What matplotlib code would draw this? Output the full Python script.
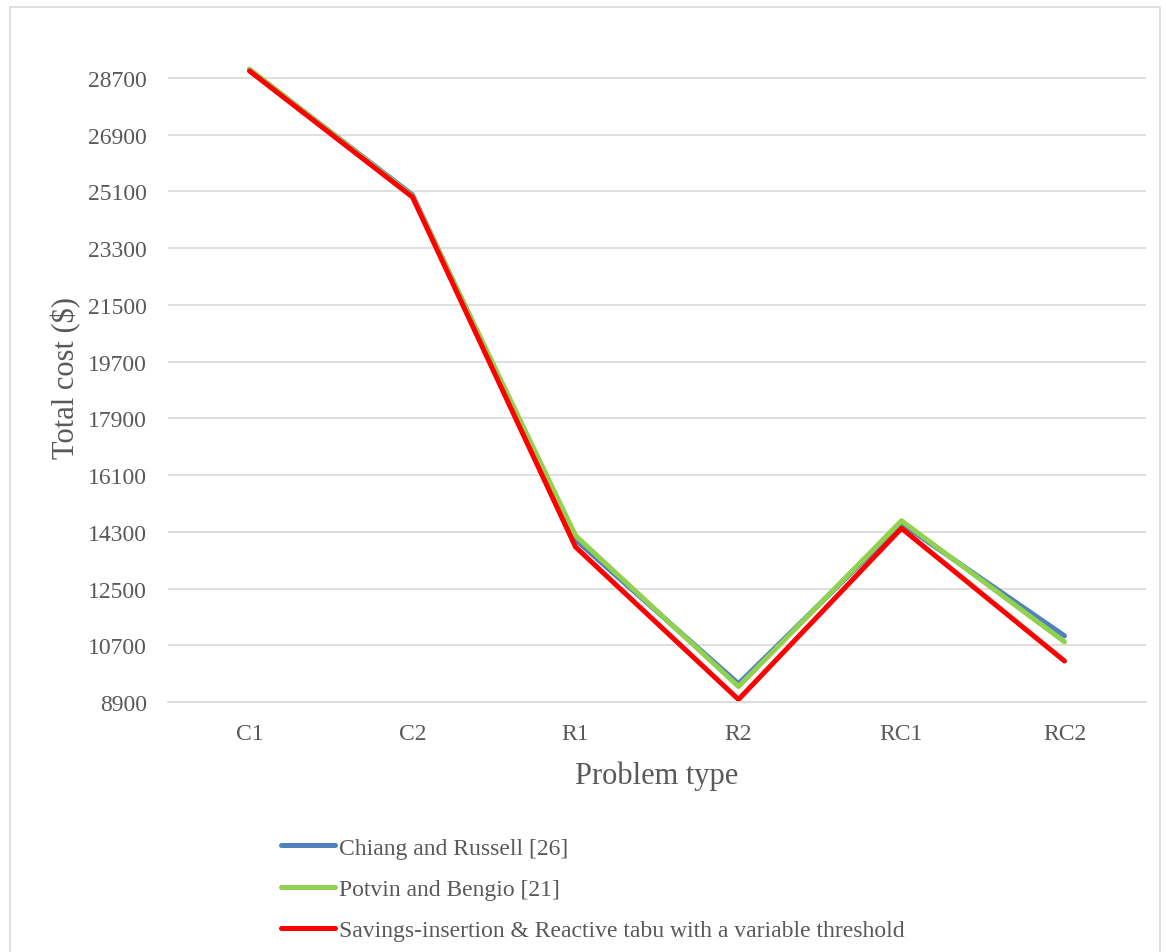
import matplotlib
matplotlib.use('Agg')
import matplotlib.pyplot as plt
from matplotlib.patches import Rectangle

# Values
problems = ['C1', 'C2', 'R1', 'R2', 'RC1', 'RC2']
chiang   = [28960, 24990, 14050, 9480, 14560, 11000]
potvin   = [28980, 24950, 14180, 9390, 14650, 10810]
savings  = [28920, 24920, 13820, 8980, 14410, 10200]
series_names = ['Chiang and Russell [26]',
                'Potvin and Bengio [21]',
                'Savings-insertion & Reactive tabu with a variable threshold']
y_ticks = [8900, 10700, 12500, 14300, 16100, 17900, 19700,
           21500, 23300, 25100, 26900, 28700]

plt.rcParams['font.family'] = ['Liberation Serif', 'DejaVu Serif']
text_col = '#595959'

fig = plt.figure(figsize=(11.66, 9.53), dpi=100)
# outer chart border
fig.patches.append(Rectangle((10 / 1166, -0.01), 1150 / 1166, 1 - 8 / 953 + 0.01,
                             transform=fig.transFigure, fill=False,
                             edgecolor='#d9d9d9', lw=1.2))

ax = fig.add_axes([168 / 1166, 1 - 703 / 953, 978 / 1166, 674.5 / 953])

x = list(range(len(problems)))
ax.plot(x, chiang, color='#4f81bd', lw=3.6, solid_capstyle='round', label=series_names[0])
ax.plot(x, potvin, color='#92d050', lw=3.6, solid_capstyle='round', label=series_names[1])
ax.plot(x, savings, color='#ff0000', lw=3.6, solid_capstyle='round', label=series_names[2])

ax.set_xlim(-0.5, len(problems) - 0.5)
ax.set_ylim(8900, 30300)
ax.set_yticks(y_ticks)
ax.set_xticks(x)
ax.set_xticklabels(problems)
ax.grid(axis='y', color='#d9d9d9', lw=1.2)
ax.set_axisbelow(True)
for s in ['left', 'right', 'top']:
    ax.spines[s].set_visible(False)
ax.spines['bottom'].set_color('#d9d9d9')
ax.spines['bottom'].set_linewidth(1.2)
ax.tick_params(length=0, labelsize=17, labelcolor=text_col)
ax.tick_params(axis='y', pad=15)
ax.tick_params(axis='x', pad=15)

ax.set_ylabel('Total cost ($)', fontsize=22, color=text_col)
ax.yaxis.set_label_coords(-0.089, 0.482)
ax.set_xlabel('Problem type', fontsize=22, color=text_col)
ax.xaxis.set_label_coords(0.5, -0.086)

leg = fig.legend(loc='upper left', bbox_to_anchor=(281 / 1166, 1 - 838 / 953),
                 frameon=False, fontsize=17, handlelength=2.3, handletextpad=0.15,
                 labelspacing=0.84, borderpad=0, borderaxespad=0)
for t in leg.get_texts():
    t.set_color(text_col)

fig.savefig('out.png', dpi=100)
